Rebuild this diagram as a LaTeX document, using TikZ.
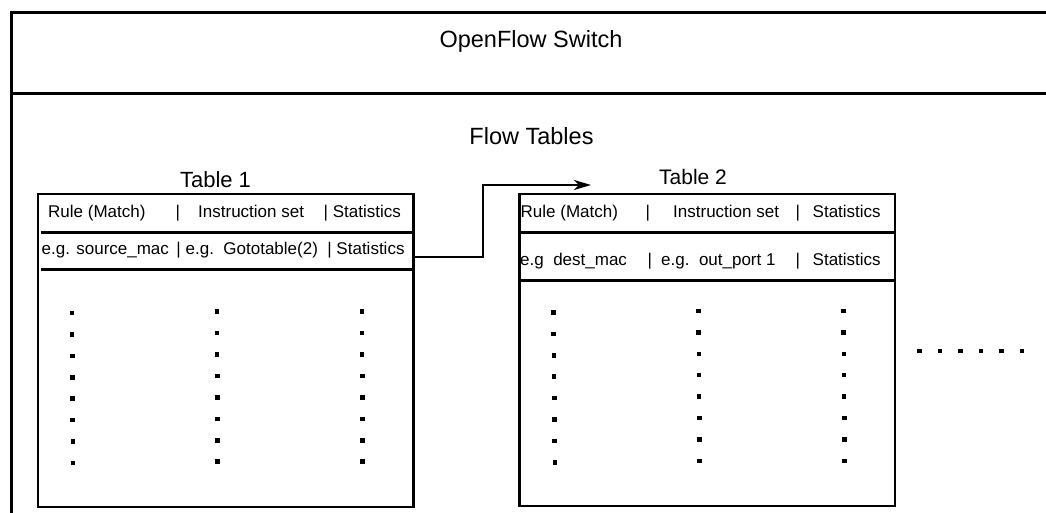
\documentclass[tikz,border=0pt]{standalone}
\usepackage{fontspec}
\setmainfont{Liberation Sans}
\usetikzlibrary{arrows.meta,calc}

\begin{document}
\begin{tikzpicture}[x=1pt,y=-1pt,
  frame/.style={draw, line width=2.8pt},
  tbox/.style={draw, line width=2.5pt, anchor=north west, inner sep=0pt,
    minimum width=375.5pt},
  rowline/.style={line width=3pt},
  title/.style={anchor=base, inner sep=0pt, font=\fontsize{23.5}{28}\selectfont},
  tlabel/.style={anchor=base, inner sep=0pt, font=\fontsize{#1}{26}\selectfont},
  cell/.style={anchor=base west, inner sep=0pt, font=\fontsize{17}{20}\selectfont},
  flow/.style={line width=2.5pt, -{Stealth[length=17pt,width=10pt,inset=5pt]}},
  dot/.style={fill=black}
]
\useasboundingbox (0,0) rectangle (1046,513);
\clip (0,0) rectangle (1046,513);

% switch frame with its header band
\node[frame, anchor=north west, inner sep=0pt, minimum width=1100pt,
      minimum height=560pt] (switch) at (10,11.5) {};
\coordinate (divL) at (10,93.3);
\draw[line width=2.8pt] (divL) -- (switch.east |- divL);
\node[title] (swname) at (531,48) {OpenFlow Switch};
\node[title] (ftname) at (531.5,145) {Flow Tables};

% table 1
\node[tlabel=22] (t1name) at (215.5,188) {Table 1};
\node[tbox, minimum height=312.5pt] (t1) at (36.5,193) {};
\draw[rowline] (41,232) -- (t1.east |- 0,232);
\draw[rowline] (41,269) -- (t1.east |- 0,269);
\node[cell] (t1h1) at (48,217) {Rule (Match)};
\node[cell] (t1h2) at (175.5,217) {|};
\node[cell] (t1h3) at (198,217) {Instruction set};
\node[cell] (t1h4) at (323.5,217) {| Statistics};
\node[cell] (t1r1) at (41.5,254) {e.g. source\_mac \,| e.g.\ \ Gototable(2) \ | Statistics};

% table 2
\node[tlabel=21] (t2name) at (693,185) {Table 2};
\node[tbox, minimum height=311.5pt] (t2) at (518,193) {};
\draw[rowline] (t2.west |- 0,232) -- (t2.east |- 0,232);
\draw[rowline] (t2.west |- 0,280) -- (t2.east |- 0,280);
\node[cell] (t2h1) at (520.5,217) {Rule (Match)};
\node[cell] (t2h2) at (645.5,217) {|};
\node[cell] (t2h3) at (673,217) {Instruction set};
\node[cell] (t2h4) at (795.5,217) {|};
\node[cell] (t2h5) at (812.5,217) {Statistics};
\node[cell] (t2r1) at (520,265) {e.g\ \ dest\_mac};
\node[cell] (t2r2) at (647.5,265) {|};
\node[cell] (t2r3) at (661,265) {e.g.\ \ out\_port 1};
\node[cell] (t2r4) at (795.5,265) {|};
\node[cell] (t2r5) at (812.5,265) {Statistics};

% jump from table 1 to table 2
\coordinate (bend) at (483,185);
\coordinate (tip) at (591,185);
\draw[flow] ($(t1.north east)+(0,64)$) -| (bend) -- (tip);

% elided rows
\foreach \i in {0,...,7} {
  \fill[dot] ({72+0.14*\i-2.25},{313+21.43*\i-2.25}) rectangle +(4.5,4.5);
  \fill[dot] ({217+0.1*\i-2.25},{311.7+21.43*\i-2.25}) rectangle +(4.5,4.5);
  \fill[dot] ({362+0.1*\i-2.25},{311.7+21.43*\i-2.25}) rectangle +(4.5,4.5);
  \fill[dot] ({553.5+0.2*\i-2.25},{312.5+21.4*\i-2.25}) rectangle +(4.5,4.5);
  \fill[dot] ({698.5+0.15*\i-2.25},{311+21.4*\i-2.25}) rectangle +(4.5,4.5);
  \fill[dot] ({843.5+0.15*\i-2.25},{311+21.4*\i-2.25}) rectangle +(4.5,4.5);
}
% further tables
\foreach \i in {0,...,5}
  \fill[dot] ({919.5+20.5*\i-2.25},{351-2.25}) rectangle +(4.5,4.5);
\end{tikzpicture}
\end{document}
